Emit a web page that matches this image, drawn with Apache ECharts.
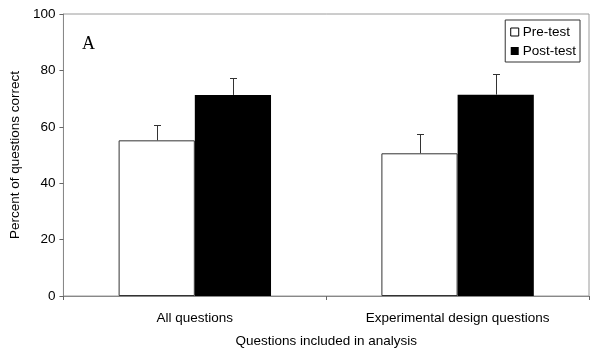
<!DOCTYPE html>
<html>
<head>
<meta charset="utf-8">
<script src="https://cdn.jsdelivr.net/npm/echarts@6/dist/echarts.min.js"></script>
<style>html,body{margin:0;padding:0;background:#fff}#c{width:600px;height:355px}</style>
</head>
<body>
<div id="c"></div>
<script>
var categories = ['All questions', 'Experimental design questions'];
var preTest = [55.2, 50.6];
var preTestErrTop = [60.6, 57.3];
var postTest = [71.3, 71.4];
var postTestErrTop = [77.2, 78.6];
var yTicks = [0, 20, 40, 60, 80, 100];

var chart = echarts.init(document.getElementById('c'));
var catGap = 0.42;
function errSeries(name, vals, tops, side) {
  return {
    type: 'custom', name: name + ' err', silent: true, z: 5,
    data: vals.map(function (v, i) { return [i, v, tops[i]]; }),
    renderItem: function (params, api) {
      var band = api.size([1, 0])[0];
      var bw = band * (1 - catGap) / 2;
      var base = api.coord([api.value(0), api.value(1)]);
      var top = api.coord([api.value(0), api.value(2)]);
      var x = Math.round(base[0] + side * bw / 2) + 0.5;
      var st = { stroke: '#333', lineWidth: 1 };
      return { type: 'group', children: [
        { type: 'line', shape: { x1: x, y1: base[1], x2: x, y2: top[1] }, style: st },
        { type: 'line', shape: { x1: x - 3.5, y1: Math.round(top[1]) + 0.5, x2: x + 3.5, y2: Math.round(top[1]) + 0.5 }, style: st }
      ]};
    }
  };
}
var font = 'Liberation Sans, Arial, sans-serif';
var fs = 13.5;
chart.setOption({
  animation: false,
  grid: { left: 62, right: 11, top: 14, bottom: 59, show: true, borderColor: '#9a9a9a', borderWidth: 1 },
  legend: {
    data: [{ name: 'Pre-test', itemStyle: { color: '#fff', borderColor: '#000', borderWidth: 1 } }, { name: 'Post-test' }],
    orient: 'vertical', right: 20, top: 20, icon: 'rect', itemWidth: 8, itemHeight: 8, itemGap: 5,
    padding: [5, 4, 4, 5], borderColor: '#333', borderWidth: 1, backgroundColor: '#fff',
    textStyle: { fontFamily: font, fontSize: fs, color: '#000', padding: [0, 0, 0, -1] }
  },
  xAxis: {
    type: 'category', data: categories,
    name: 'Questions included in analysis', nameLocation: 'middle', nameGap: 38,
    nameTextStyle: { fontFamily: font, fontSize: fs, color: '#000' },
    axisLine: { lineStyle: { color: '#888' } },
    axisTick: { show: true, length: 4, lineStyle: { color: '#666' } },
    axisLabel: { fontFamily: font, fontSize: fs, color: '#000', margin: 15 }
  },
  yAxis: {
    type: 'value', min: 0, max: 100, interval: 20,
    name: 'Percent of questions correct', nameLocation: 'middle', nameGap: 40,
    nameTextStyle: { fontFamily: font, fontSize: fs, color: '#000' },
    axisLine: { show: true, lineStyle: { color: '#888' } },
    axisTick: { show: true, length: 4, lineStyle: { color: '#666' } },
    splitLine: { show: false },
    axisLabel: { fontFamily: font, fontSize: fs, color: '#000', margin: 8,
      formatter: function (v) { return yTicks.indexOf(v) >= 0 ? String(v) : ''; } }
  },
  graphic: [{ type: 'text', left: 82, top: 35, style: { text: 'A', font: '18px Liberation Serif, Times New Roman, serif', fill: '#000' } }],
  series: [
    { type: 'bar', name: 'Pre-test', data: preTest, barGap: '0%', barCategoryGap: '42%',
      itemStyle: { color: '#fff', borderColor: '#333', borderWidth: 1 } },
    { type: 'bar', name: 'Post-test', data: postTest, barGap: '0%', barCategoryGap: '42%',
      itemStyle: { color: '#000' } },
    errSeries('Pre-test', preTest, preTestErrTop, -1),
    errSeries('Post-test', postTest, postTestErrTop, 1)
  ]
});
</script>
</body>
</html>
